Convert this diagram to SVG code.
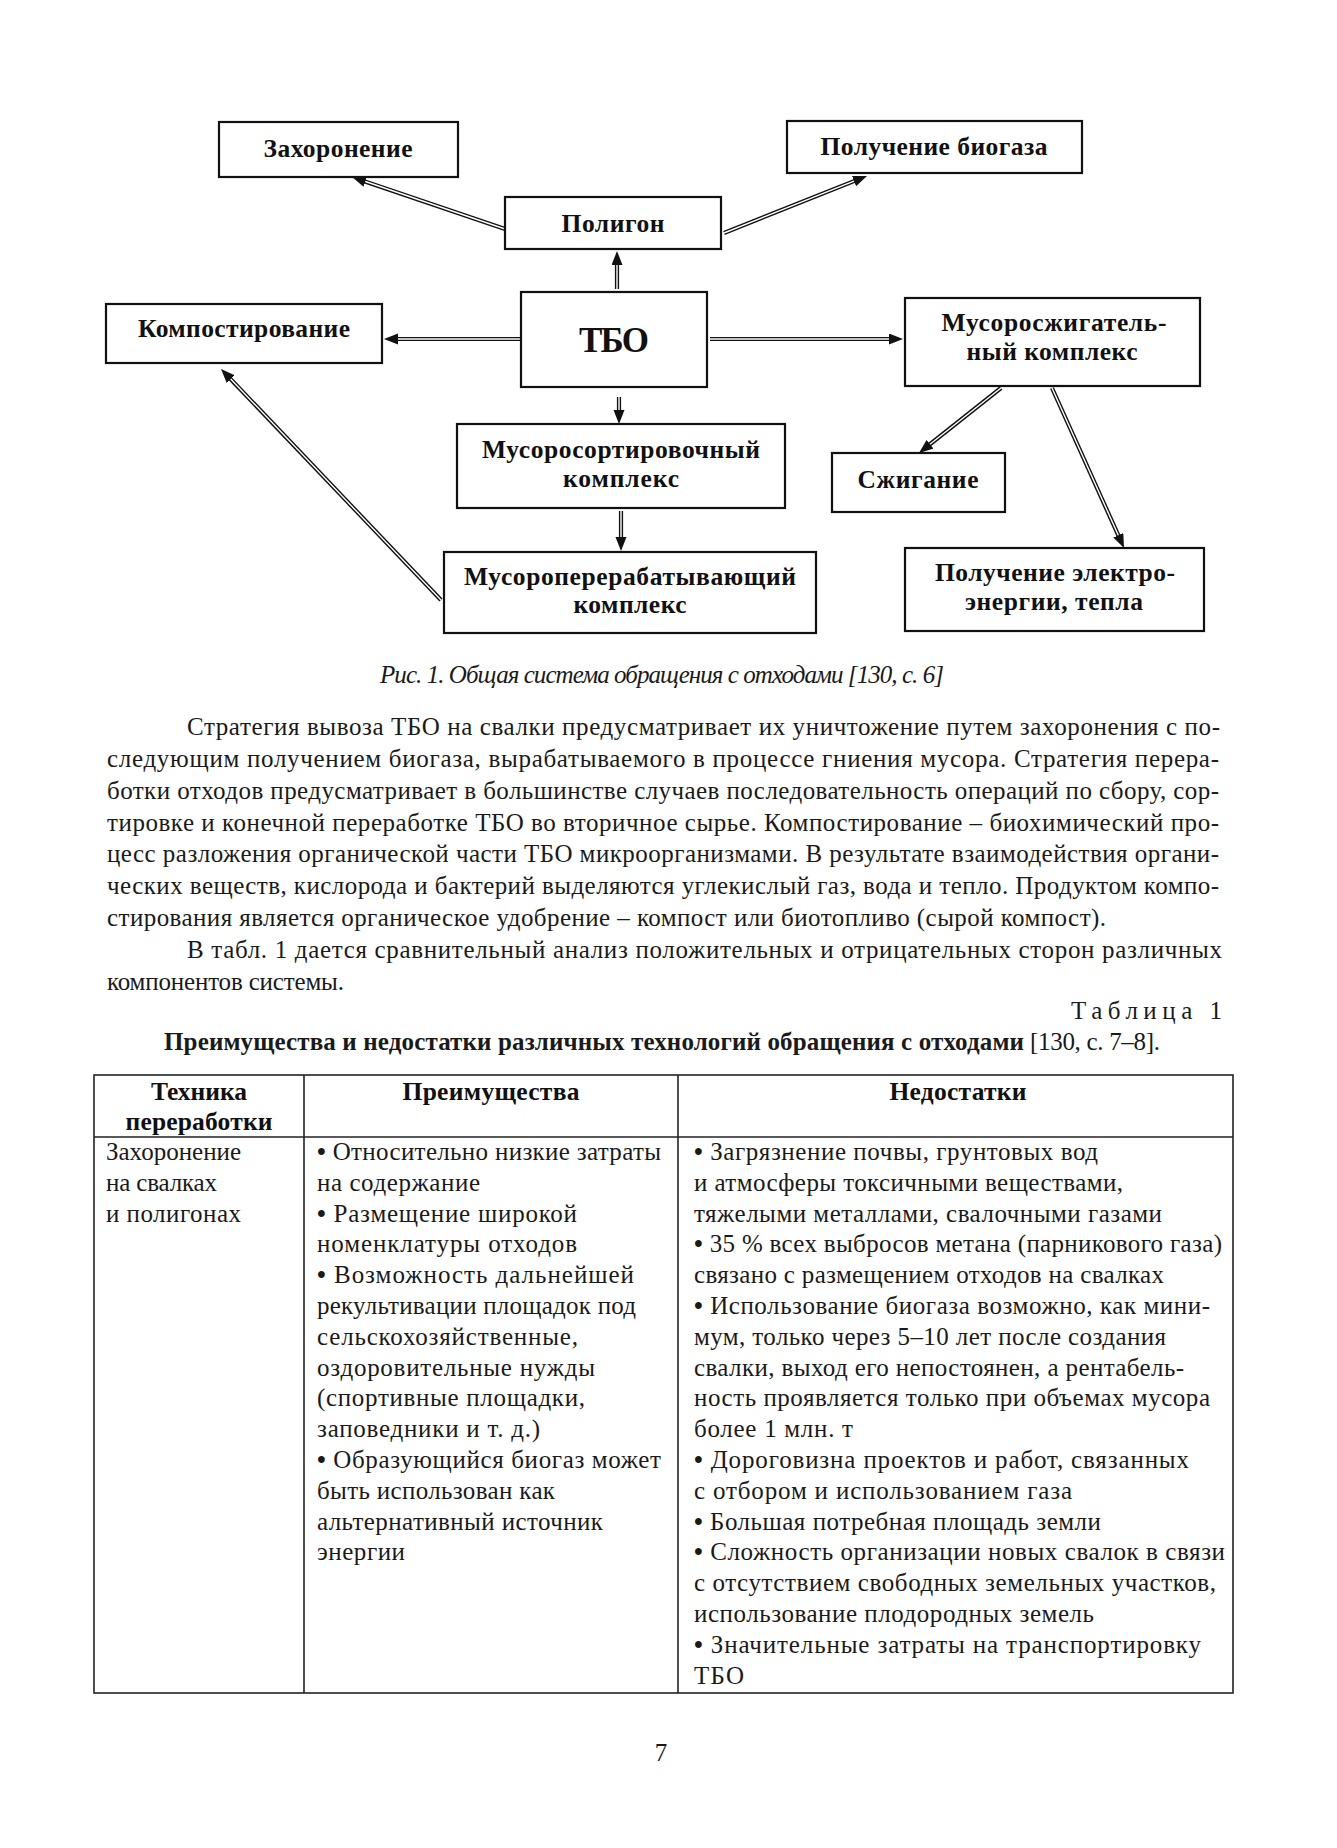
<svg xmlns="http://www.w3.org/2000/svg" width="1337" height="1848" viewBox="0 0 1337 1848">
<style>
.bg{fill:#fff}
.box{fill:#fff;stroke:#111;stroke-width:2.2}
.lbl{font-family:"Liberation Serif","DejaVu Serif",serif;font-weight:bold;font-size:25.5px;fill:#111;text-anchor:middle}
.big{font-size:35px}
.outer{fill:none;stroke:#111;stroke-width:4.2}
.inner{fill:none;stroke:#fff;stroke-width:1.4}
.txt{font-family:"Liberation Serif","DejaVu Serif",serif;font-size:25px;fill:#1a1a1a}
.b{font-weight:bold}
.it{font-style:italic}
.bl{font-weight:bold}
.hd{font-family:"Liberation Serif","DejaVu Serif",serif;font-weight:bold;font-size:25.5px;fill:#111;text-anchor:middle}
.tl{fill:none;stroke:#222;stroke-width:1.6}
</style>
<defs>
<marker id="ah" markerUnits="userSpaceOnUse" markerWidth="16" markerHeight="12" refX="2" refY="5.5" orient="auto">
<path d="M0,0 L14,5.5 L0,11 z" fill="#111"/>
</marker>
</defs>
<rect class="bg" x="0" y="0" width="1337" height="1848"/>

<g id="connectors">
<path class="outer" d="M505,229 L363.4,180.9" marker-end="url(#ah)"/>
<path class="inner" d="M505,229 L365.3,181.5"/>
<path class="outer" d="M724,233 L855.9,180.4" marker-end="url(#ah)"/>
<path class="inner" d="M724,233 L854,181.2"/>
<path class="outer" d="M617,289 L617,263" marker-end="url(#ah)"/>
<path class="inner" d="M617,289 L617,265"/>
<path class="outer" d="M521,339 L396,339" marker-end="url(#ah)"/>
<path class="inner" d="M521,339 L398,339"/>
<path class="outer" d="M710,339 L891,339" marker-end="url(#ah)"/>
<path class="inner" d="M710,339 L889,339"/>
<path class="outer" d="M619,397 L619,412" marker-end="url(#ah)"/>
<path class="inner" d="M619,397 L619,410"/>
<path class="outer" d="M621,511 L621,539" marker-end="url(#ah)"/>
<path class="inner" d="M621,511 L621,537"/>
<path class="outer" d="M441,600 L229.3,377.7" marker-end="url(#ah)"/>
<path class="inner" d="M441,600 L230.7,379.1"/>
<path class="outer" d="M1001,388 L928.4,445.5" marker-end="url(#ah)"/>
<path class="inner" d="M1001,388 L930,444.3"/>
<path class="outer" d="M1052,388 L1119.1,537.1" marker-end="url(#ah)"/>
<path class="inner" d="M1052,388 L1118.3,535.2"/>
</g>

<g id="n-zahoronenie"><rect class="box" x="219" y="122" width="239" height="55"/><text class="lbl" x="338" y="157" textLength="149">Захоронение</text></g>
<g id="n-biogaz"><rect class="box" x="787" y="121" width="295" height="52"/><text class="lbl" x="934" y="155" textLength="227">Получение биогаза</text></g>
<g id="n-poligon"><rect class="box" x="505" y="197" width="216" height="52"/><text class="lbl" x="613" y="232" textLength="103">Полигон</text></g>
<g id="n-tbo"><rect class="box" x="521" y="292" width="186" height="95"/><text class="lbl big" x="614" y="352" textLength="70">ТБО</text></g>
<g id="n-kompost"><rect class="box" x="106" y="304" width="276" height="59"/><text class="lbl" x="244" y="337" textLength="212">Компостирование</text></g>
<g id="n-szhig-kompleks"><rect class="box" x="905" y="298" width="295" height="88"/><text class="lbl" x="1054" y="331" textLength="225">Мусоросжигатель-</text><text class="lbl" x="1052" y="360" textLength="171">ный комплекс</text></g>
<g id="n-sort"><rect class="box" x="457" y="424" width="328" height="84"/><text class="lbl" x="621" y="458" textLength="278">Мусоросортировочный</text><text class="lbl" x="621" y="487" textLength="116">комплекс</text></g>
<g id="n-pererab"><rect class="box" x="444" y="552" width="372" height="81"/><text class="lbl" x="630" y="585" textLength="332">Мусороперерабатывающий</text><text class="lbl" x="630" y="613" textLength="113">комплекс</text></g>
<g id="n-szhiganie"><rect class="box" x="832" y="453" width="173" height="59"/><text class="lbl" x="918" y="488" textLength="121">Сжигание</text></g>
<g id="n-energia"><rect class="box" x="905" y="548" width="299" height="83"/><text class="lbl" x="1055" y="581" textLength="240">Получение электро-</text><text class="lbl" x="1054" y="610" textLength="178">энергии, тепла</text></g>

<text class="txt it" x="380" y="683" font-size="23" textLength="564">Рис. 1. Общая система обращения с отходами [130, с. 6]</text>

<g id="paragraph">
<text class="txt" x="187" y="735" textLength="1033">Стратегия вывоза ТБО на свалки предусматривает их уничтожение путем захоронения с по-</text>
<text class="txt" x="107" y="767" textLength="1112">следующим получением биогаза, вырабатываемого в процессе гниения мусора. Стратегия перера-</text>
<text class="txt" x="107" y="799" textLength="1112">ботки отходов предусматривает в большинстве случаев последовательность операций по сбору, сор-</text>
<text class="txt" x="107" y="831" textLength="1112">тировке и конечной переработке ТБО во вторичное сырье. Компостирование – биохимический про-</text>
<text class="txt" x="107" y="862" textLength="1112">цесс разложения органической части ТБО микроорганизмами. В результате взаимодействия органи-</text>
<text class="txt" x="107" y="894" textLength="1112">ческих веществ, кислорода и бактерий выделяются углекислый газ, вода и тепло. Продуктом компо-</text>
<text class="txt" x="107" y="926" textLength="999">стирования является органическое удобрение – компост или биотопливо (сырой компост).</text>
<text class="txt" x="187" y="958" textLength="1035">В табл. 1 дается сравнительный анализ положительных и отрицательных сторон различных</text>
<text class="txt" x="107" y="990" textLength="237">компонентов системы.</text>
<text class="txt" x="1071" y="1019" textLength="151">Таблица 1</text>
<text class="txt b" x="164" y="1050" textLength="860">Преимущества и недостатки различных технологий обращения с отходами</text>
<text class="txt" x="1030" y="1050" textLength="130">[130, с. 7–8].</text>
</g>

<g id="table">
<rect class="tl" x="94" y="1075" width="1139" height="618"/>
<line class="tl" x1="94" y1="1137" x2="1233" y2="1137"/>
<line class="tl" x1="304" y1="1075" x2="304" y2="1693"/>
<line class="tl" x1="678" y1="1075" x2="678" y2="1693"/>
<text class="hd" x="199" y="1100" textLength="96">Техника</text>
<text class="hd" x="199" y="1130" textLength="147">переработки</text>
<text class="hd" x="491" y="1100" textLength="177">Преимущества</text>
<text class="hd" x="958" y="1100" textLength="137">Недостатки</text>

<text class="txt" x="106" y="1160" textLength="135">Захоронение</text>
<text class="txt" x="106" y="1191" textLength="111">на свалках</text>
<text class="txt" x="106" y="1222" textLength="135">и полигонах</text>

<text class="txt" x="317" y="1160" textLength="344"><tspan class="bl">•</tspan> Относительно низкие затраты</text>
<text class="txt" x="317" y="1191" textLength="163">на содержание</text>
<text class="txt" x="317" y="1222" textLength="260"><tspan class="bl">•</tspan> Размещение широкой</text>
<text class="txt" x="317" y="1252" textLength="260">номенклатуры отходов</text>
<text class="txt" x="317" y="1283" textLength="317"><tspan class="bl">•</tspan> Возможность дальнейшей</text>
<text class="txt" x="317" y="1314" textLength="319">рекультивации площадок под</text>
<text class="txt" x="317" y="1345" textLength="261">сельскохозяйственные,</text>
<text class="txt" x="317" y="1376" textLength="278">оздоровительные нужды</text>
<text class="txt" x="317" y="1406" textLength="268">(спортивные площадки,</text>
<text class="txt" x="317" y="1437" textLength="223">заповедники и т. д.)</text>
<text class="txt" x="317" y="1468" textLength="344"><tspan class="bl">•</tspan> Образующийся биогаз может</text>
<text class="txt" x="317" y="1499" textLength="238">быть использован как</text>
<text class="txt" x="317" y="1530" textLength="286">альтернативный источник</text>
<text class="txt" x="317" y="1560" textLength="88">энергии</text>

<text class="txt" x="694" y="1160" textLength="404"><tspan class="bl">•</tspan> Загрязнение почвы, грунтовых вод</text>
<text class="txt" x="694" y="1191" textLength="429">и атмосферы токсичными веществами,</text>
<text class="txt" x="694" y="1222" textLength="468">тяжелыми металлами, свалочными газами</text>
<text class="txt" x="694" y="1252" textLength="528"><tspan class="bl">•</tspan> 35 % всех выбросов метана (парникового газа)</text>
<text class="txt" x="694" y="1283" textLength="470">связано с размещением отходов на свалках</text>
<text class="txt" x="694" y="1314" textLength="516"><tspan class="bl">•</tspan> Использование биогаза возможно, как мини-</text>
<text class="txt" x="694" y="1345" textLength="472">мум, только через 5–10 лет после создания</text>
<text class="txt" x="694" y="1376" textLength="490">свалки, выход его непостоянен, а рентабель-</text>
<text class="txt" x="694" y="1406" textLength="516">ность проявляется только при объемах мусора</text>
<text class="txt" x="694" y="1437" textLength="159">более 1 млн. т</text>
<text class="txt" x="694" y="1468" textLength="495"><tspan class="bl">•</tspan> Дороговизна проектов и работ, связанных</text>
<text class="txt" x="694" y="1499" textLength="378">с отбором и использованием газа</text>
<text class="txt" x="694" y="1530" textLength="407"><tspan class="bl">•</tspan> Большая потребная площадь земли</text>
<text class="txt" x="694" y="1560" textLength="531"><tspan class="bl">•</tspan> Сложность организации новых свалок в связи</text>
<text class="txt" x="694" y="1591" textLength="522">с отсутствием свободных земельных участков,</text>
<text class="txt" x="694" y="1622" textLength="400">использование плодородных земель</text>
<text class="txt" x="694" y="1653" textLength="507"><tspan class="bl">•</tspan> Значительные затраты на транспортировку</text>
<text class="txt" x="694" y="1684" textLength="50">ТБО</text>
</g>

<text class="txt" x="661" y="1761" text-anchor="middle">7</text>
</svg>
